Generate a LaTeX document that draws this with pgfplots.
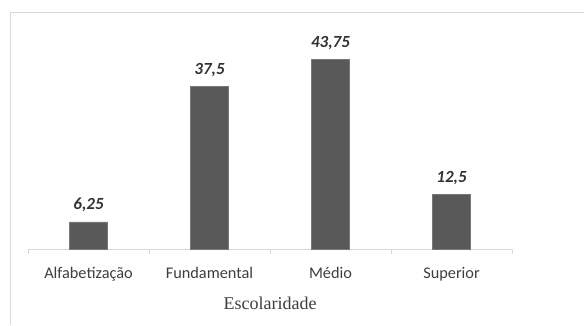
\documentclass[border=0pt]{standalone}
\usepackage{fontspec}
\setmainfont{Carlito}
\newfontfamily\axtitlefont{Liberation Serif}
\usepackage{pgfplots}
\pgfplotsset{compat=1.18}
\definecolor{barfill}{RGB}{89,89,89}
\definecolor{baredge}{RGB}{120,120,120}
\definecolor{framegray}{RGB}{217,217,217}
\definecolor{ticktext}{RGB}{62,62,62}
\definecolor{valtext}{RGB}{50,50,50}
\begin{document}
\begin{tikzpicture}[x=1pt,y=1pt]
\useasboundingbox (0,0) rectangle (584,325);
% chart area frame
\draw[framegray, line width=1pt] (10.5,0) -- (10.5,313) -- (584,313);
\begin{axis}[
  at={(28pt,76pt)}, anchor=south west,
  width=484pt, height=217pt, scale only axis,
  xmin=-0.5, xmax=3.5, ymin=0, ymax=50,
  axis x line*=bottom, hide y axis,
  x axis line style={framegray, line width=1pt},
  xtick={0,1,2,3},
  xticklabels={Alfabetização,Fundamental,Médio,Superior},
  major x tick style={draw=none},
  extra x ticks={-0.5,0.5,1.5,2.5,3.5},
  extra x tick labels={},
  extra x tick style={major x tick style={draw=framegray, line width=1pt}, tick align=outside, major tick length=5pt},
  xticklabel style={font=\fontsize{16.3}{16}\selectfont, text=ticktext, yshift=-10pt},
  xlabel={Escolaridade},
  xlabel style={font=\axtitlefont\fontsize{18}{18}\selectfont, text=ticktext},
  ybar, bar width=38pt,
  point meta=explicit symbolic,
  nodes near coords,
  nodes near coords style={font=\bfseries\itshape\fontsize{17}{17}\selectfont, text=valtext, yshift=6pt},
  clip=false,
]
\addplot[fill=barfill, draw=baredge, line width=0.6pt] table[x=x, y=y, meta=lbl] {
x y lbl
0 6.25 6,25
1 37.5 37,5
2 43.75 43,75
3 12.5 12,5
};
\end{axis}
\end{tikzpicture}
\end{document}
